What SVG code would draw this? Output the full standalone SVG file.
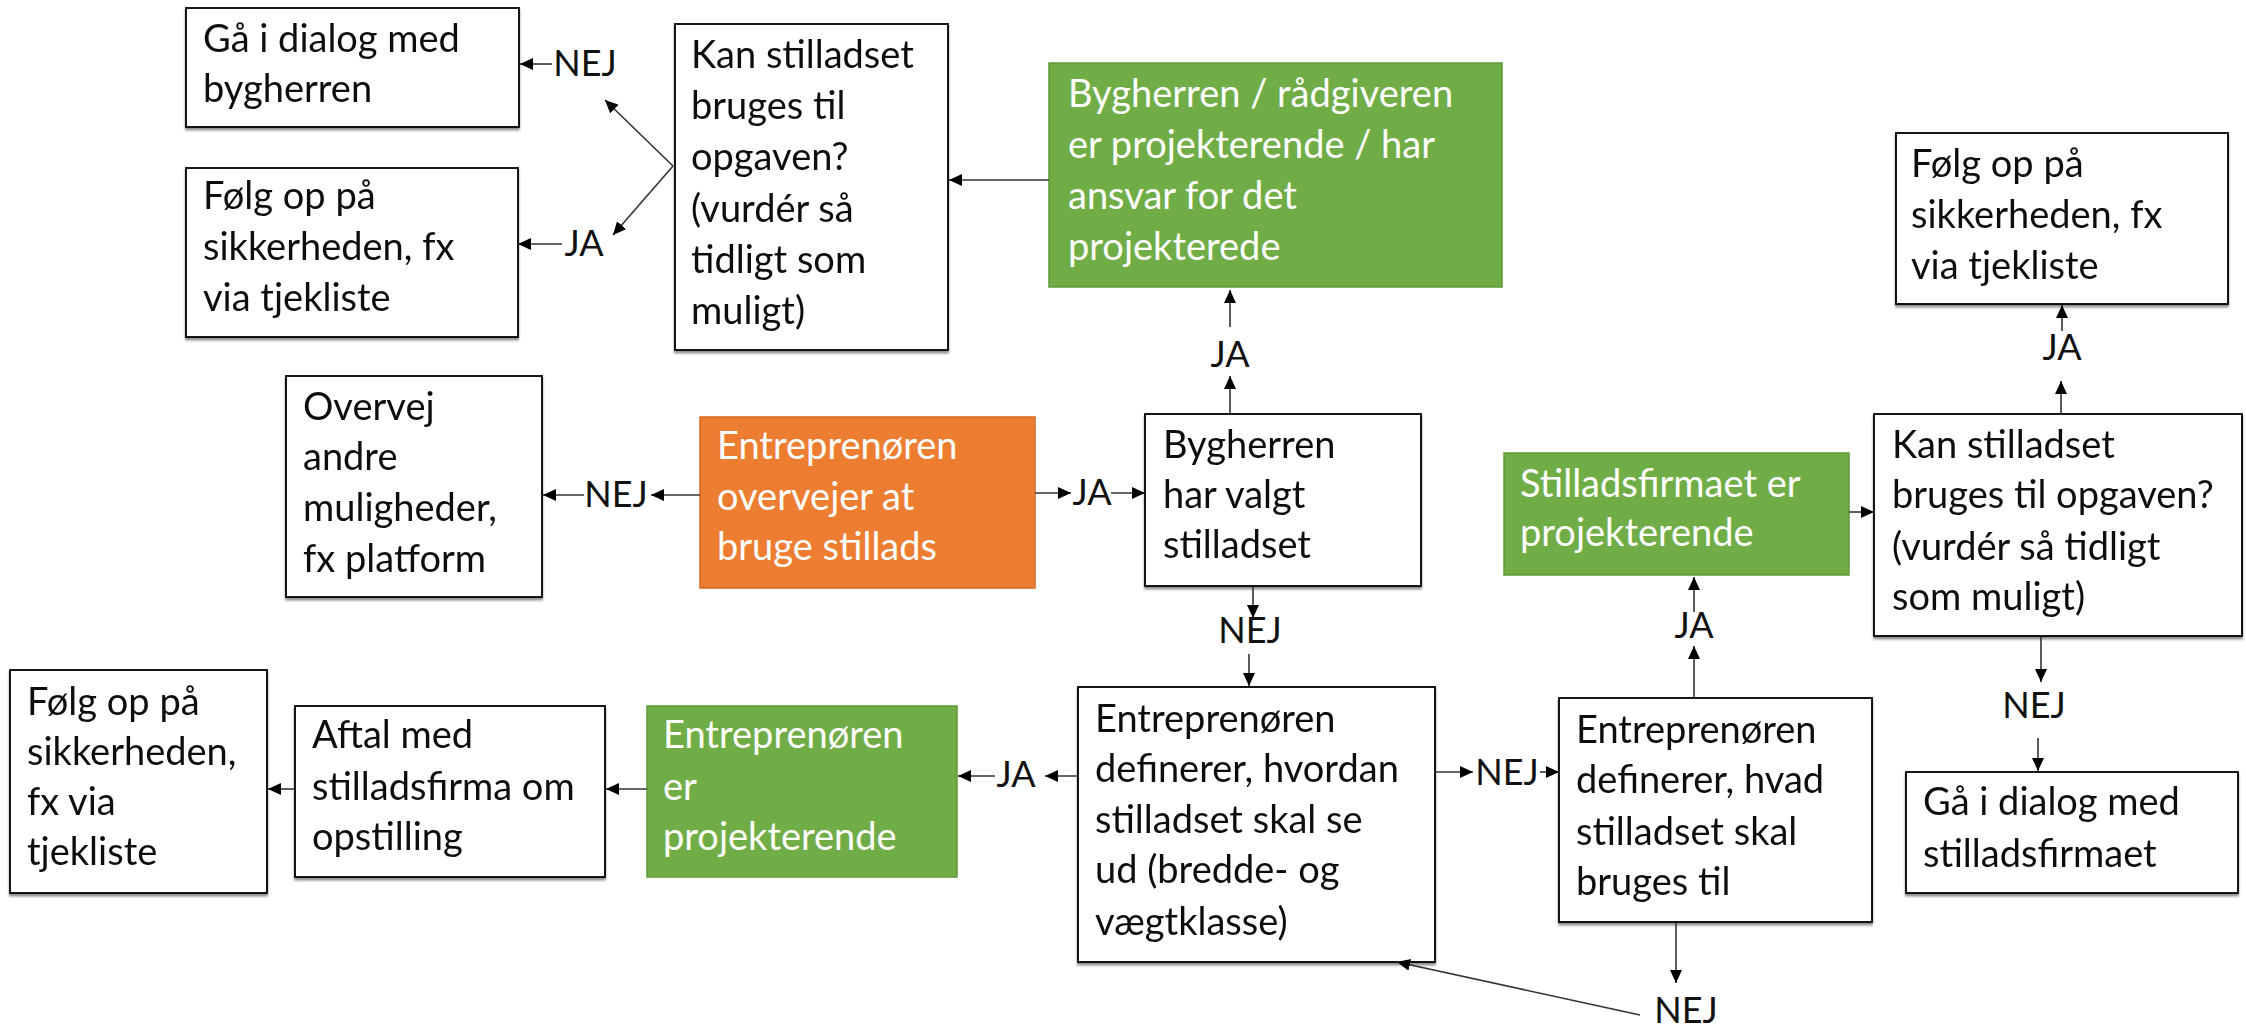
<svg xmlns="http://www.w3.org/2000/svg" width="2246" height="1030" viewBox="0 0 2246 1030">
<defs>
<marker id="ah" markerUnits="userSpaceOnUse" markerWidth="14" markerHeight="12" refX="13" refY="6" orient="auto">
<path d="M0,0 L13,6 L0,12 Z" fill="#000"/>
</marker>
<filter id="sh" x="-5%" y="-5%" width="110%" height="115%">
<feDropShadow dx="0" dy="2.5" stdDeviation="1" flood-color="#000" flood-opacity="0.45"/>
</filter>
</defs>
<style>
text{font-family:Lato,"Open Sans",sans-serif;font-size:38px;fill:#111}
.w{fill:#fff;stroke:#000;stroke-width:1.8}
.g{fill:#70AD47;stroke:#5E9A3A;stroke-width:1.5}
.o{fill:#ED7D31;stroke:#D56A22;stroke-width:1.5}
.wt{fill:#fff}
.lbl{text-anchor:middle;font-size:36px}
#connectors line{stroke:#333;stroke-width:1.6;marker-end:url(#ah)}
</style>
<rect width="2246" height="1030" fill="#fff"/>

<g id="box-dialog-bygherren" filter="url(#sh)"><rect class="w" x="186" y="8" width="333" height="119"/>
<text x="203"><tspan x="203" y="52">Gå i dialog med</tspan><tspan x="203" y="102">bygherren</tspan></text></g>

<g id="box-folg-op-1" filter="url(#sh)"><rect class="w" x="186" y="168" width="332" height="169"/>
<text><tspan x="203" y="209">Følg op på</tspan><tspan x="203" y="260">sikkerheden, fx</tspan><tspan x="203" y="311">via tjekliste</tspan></text></g>

<g id="box-kan-stilladset-1" filter="url(#sh)"><rect class="w" x="675" y="24" width="273" height="326"/>
<text><tspan x="691" y="68">Kan stilladset</tspan><tspan x="691" y="119">bruges til</tspan><tspan x="691" y="170">opgaven?</tspan><tspan x="691" y="222">(vurdér så</tspan><tspan x="691" y="273">tidligt som</tspan><tspan x="691" y="324">muligt)</tspan></text></g>

<g id="box-bygherren-projekterende"><rect class="g" x="1049" y="63" width="453" height="224"/>
<text class="wt"><tspan x="1068" y="107">Bygherren / rådgiveren</tspan><tspan x="1068" y="158">er projekterende / har</tspan><tspan x="1068" y="209">ansvar for det</tspan><tspan x="1068" y="260">projekterede</tspan></text></g>

<g id="box-folg-op-2" filter="url(#sh)"><rect class="w" x="1896" y="133" width="332" height="171"/>
<text><tspan x="1911" y="177">Følg op på</tspan><tspan x="1911" y="228">sikkerheden, fx</tspan><tspan x="1911" y="279">via tjekliste</tspan></text></g>

<g id="box-overvej" filter="url(#sh)"><rect class="w" x="286" y="376" width="256" height="221"/>
<text><tspan x="303" y="420">Overvej</tspan><tspan x="303" y="470">andre</tspan><tspan x="303" y="521">muligheder,</tspan><tspan x="303" y="572">fx platform</tspan></text></g>

<g id="box-entreprenoren-overvejer"><rect class="o" x="700" y="417" width="335" height="171"/>
<text class="wt"><tspan x="717" y="459">Entreprenøren</tspan><tspan x="717" y="510">overvejer at</tspan><tspan x="717" y="560">bruge stillads</tspan></text></g>

<g id="box-bygherren-valgt" filter="url(#sh)"><rect class="w" x="1145" y="414" width="276" height="172"/>
<text><tspan x="1163" y="458">Bygherren</tspan><tspan x="1163" y="508">har valgt</tspan><tspan x="1163" y="558">stilladset</tspan></text></g>

<g id="box-stilladsfirmaet-projekterende"><rect class="g" x="1504" y="453" width="345" height="122"/>
<text class="wt"><tspan x="1520" y="497">Stilladsfirmaet er</tspan><tspan x="1520" y="546">projekterende</tspan></text></g>

<g id="box-kan-stilladset-2" filter="url(#sh)"><rect class="w" x="1874" y="414" width="368" height="222"/>
<text><tspan x="1892" y="458">Kan stilladset</tspan><tspan x="1892" y="508">bruges til opgaven?</tspan><tspan x="1892" y="560">(vurdér så tidligt</tspan><tspan x="1892" y="610">som muligt)</tspan></text></g>

<g id="box-folg-op-3" filter="url(#sh)"><rect class="w" x="10" y="670" width="257" height="223"/>
<text><tspan x="27" y="715">Følg op på</tspan><tspan x="27" y="765">sikkerheden,</tspan><tspan x="27" y="815">fx via</tspan><tspan x="27" y="865">tjekliste</tspan></text></g>

<g id="box-aftal" filter="url(#sh)"><rect class="w" x="295" y="706" width="310" height="171"/>
<text><tspan x="312" y="748">Aftal med</tspan><tspan x="312" y="800">stilladsfirma om</tspan><tspan x="312" y="850">opstilling</tspan></text></g>

<g id="box-entreprenoren-projekterende"><rect class="g" x="647" y="706" width="310" height="171"/>
<text class="wt"><tspan x="663" y="748">Entreprenøren</tspan><tspan x="663" y="800">er</tspan><tspan x="663" y="850">projekterende</tspan></text></g>

<g id="box-definerer-hvordan" filter="url(#sh)"><rect class="w" x="1078" y="687" width="357" height="275"/>
<text><tspan x="1095" y="732">Entreprenøren</tspan><tspan x="1095" y="782">definerer, hvordan</tspan><tspan x="1095" y="833">stilladset skal se</tspan><tspan x="1095" y="883">ud (bredde- og</tspan><tspan x="1095" y="935">vægtklasse)</tspan></text></g>

<g id="box-definerer-hvad" filter="url(#sh)"><rect class="w" x="1559" y="698" width="313" height="224"/>
<text><tspan x="1576" y="743">Entreprenøren</tspan><tspan x="1576" y="793">definerer, hvad</tspan><tspan x="1576" y="845">stilladset skal</tspan><tspan x="1576" y="895">bruges til</tspan></text></g>

<g id="box-dialog-stilladsfirmaet" filter="url(#sh)"><rect class="w" x="1906" y="772" width="332" height="121"/>
<text><tspan x="1923" y="815">Gå i dialog med</tspan><tspan x="1923" y="867">stilladsfirmaet</tspan></text></g>

<g id="connectors">
<line x1="673" y1="166" x2="605" y2="100"/>
<line x1="673" y1="166" x2="613" y2="235"/>
<line x1="552" y1="64" x2="520" y2="64"/>
<line x1="562" y1="244" x2="518" y2="244"/>
<line x1="1049" y1="180" x2="949" y2="180"/>
<line x1="1230" y1="414" x2="1230" y2="376"/>
<line x1="1230" y1="327" x2="1230" y2="290"/>
<line x1="700" y1="495" x2="651" y2="495"/>
<line x1="584" y1="495" x2="543" y2="495"/>
<line x1="1035" y1="493" x2="1071" y2="493"/>
<line x1="1111" y1="493" x2="1145" y2="493"/>
<line x1="1253" y1="587" x2="1253" y2="618"/>
<line x1="1249" y1="654" x2="1249" y2="686"/>
<line x1="1078" y1="776" x2="1045" y2="776"/>
<line x1="995" y1="776" x2="958" y2="776"/>
<line x1="647" y1="789" x2="606" y2="789"/>
<line x1="295" y1="789" x2="268" y2="789"/>
<line x1="1435" y1="772" x2="1473" y2="772"/>
<line x1="1540" y1="772" x2="1559" y2="772"/>
<line x1="1694" y1="698" x2="1694" y2="646"/>
<line x1="1694" y1="612" x2="1694" y2="577"/>
<line x1="1849" y1="512" x2="1874" y2="512"/>
<line x1="2061" y1="414" x2="2061" y2="381"/>
<line x1="2062" y1="331" x2="2062" y2="305"/>
<line x1="2041" y1="637" x2="2041" y2="682"/>
<line x1="2038" y1="738" x2="2038" y2="771"/>
<line x1="1676" y1="923" x2="1676" y2="983"/>
<line x1="1640" y1="1015" x2="1397" y2="962"/>
</g>

<g id="labels">
<text class="lbl" x="585" y="76">NEJ</text>
<text class="lbl" x="584" y="256">JA</text>
<text class="lbl" x="1230" y="367">JA</text>
<text class="lbl" x="2062" y="360">JA</text>
<text class="lbl" x="616" y="507">NEJ</text>
<text class="lbl" x="1092" y="505">JA</text>
<text class="lbl" x="1250" y="643">NEJ</text>
<text class="lbl" x="1694" y="638">JA</text>
<text class="lbl" x="2034" y="718">NEJ</text>
<text class="lbl" x="1016" y="787">JA</text>
<text class="lbl" x="1507" y="785">NEJ</text>
<text class="lbl" x="1686" y="1023">NEJ</text>
</g>
</svg>
